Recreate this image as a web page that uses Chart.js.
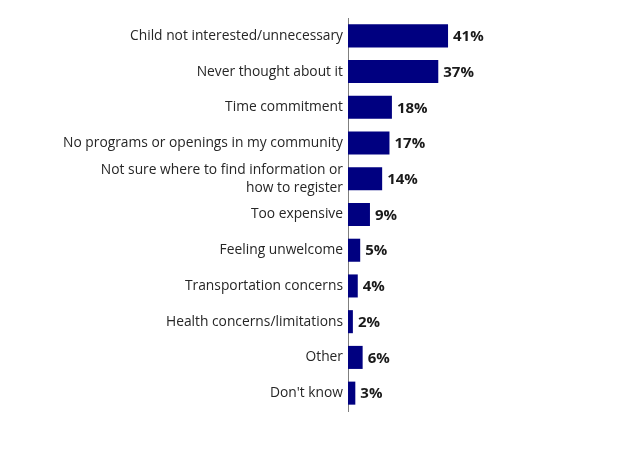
<!DOCTYPE html>
<html><head><meta charset="utf-8">
<script src="https://cdn.jsdelivr.net/npm/chart.js@4/dist/chart.umd.min.js"></script>
<style>html,body{margin:0;padding:0;background:#fff}#wrap{width:624px;height:468px}</style>
</head><body><div id="wrap"><canvas id="c" width="624" height="468"></canvas></div>
<script>
const categories = [
  "Child not interested/unnecessary",
  "Never thought about it",
  "Time commitment",
  "No programs or openings in my community",
  ["Not sure where to find information or", "how to register"],
  "Too expensive",
  "Feeling unwelcome",
  "Transportation concerns",
  "Health concerns/limitations",
  "Other",
  "Don't know"
];
const values = [41, 37, 18, 17, 14, 9, 5, 4, 2, 6, 3];
const valueLabels = ["41%","37%","18%","17%","14%","9%","5%","4%","2%","6%","3%"];

const labelPlugin = {
  id: 'valLabels',
  afterDatasetsDraw(chart) {
    const ctx = chart.ctx;
    const meta = chart.getDatasetMeta(0);
    ctx.save();
    ctx.font = 'bold 15px "Open Sans", sans-serif';
    ctx.fillStyle = '#1a1a1a';
    ctx.textBaseline = 'middle';
    ctx.textAlign = 'left';
    meta.data.forEach((bar, i) => {
      ctx.fillText(valueLabels[i], bar.x + 5, bar.y + 1);
    });
    ctx.restore();
  }
};

new Chart(document.getElementById('c'), {
  type: 'bar',
  data: {
    labels: categories,
    datasets: [{
      data: values,
      backgroundColor: '#000080',
      borderWidth: 0,
      barPercentage: 0.645,
      categoryPercentage: 1.0
    }]
  },
  options: {
    indexAxis: 'y',
    responsive: false,
    animation: false,
    layout: { padding: { top: 18, bottom: 57, right: 32, left: 0 } },
    plugins: { legend: { display: false }, tooltip: { enabled: false } },
    scales: {
      x: { display: false, min: 0, max: 100 },
      y: {
        grid: { display: false, drawTicks: false },
        border: { display: true, color: '#7f7f7f', width: 1 },
        ticks: {
          autoSkip: false,
          color: '#262626',
          padding: 5,
          font: { family: '"Open Sans", sans-serif', size: 13.8, lineHeight: 1.3 }
        },
        afterFit(scale) { scale.width = 348; }
      }
    }
  },
  plugins: [labelPlugin]
});
</script></body></html>
